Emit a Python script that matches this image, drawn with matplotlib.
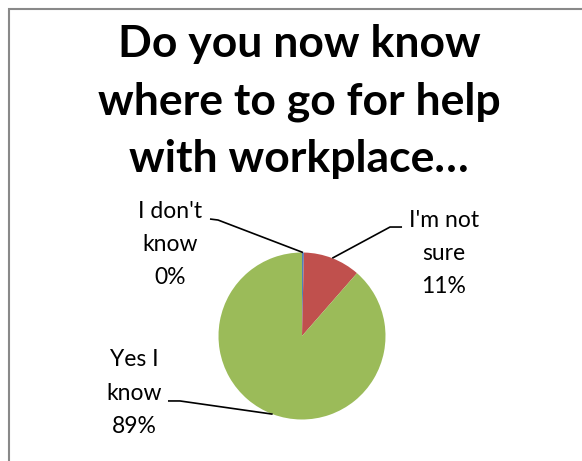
import matplotlib
matplotlib.use("Agg")
import matplotlib.pyplot as plt
import numpy as np
from matplotlib.patches import Rectangle

categories = ["I don't\nknow", "I'm not\nsure", "Yes I\nknow"]
values = [1, 30, 240]
pct_labels = ["0%", "11%", "89%"]
colors = ["#4F81BD", "#C0504D", "#9BBB59"]
title = "Do you now know\nwhere to go for help\nwith workplace…"

W, H = 582, 461
fig = plt.figure(figsize=(W / 100, H / 100), dpi=100)
fig.patch.set_facecolor("white")

# chart-area border
fig.add_artist(Rectangle((9 / W, -0.1), 1.2, (H - 9) / H + 0.1, transform=fig.transFigure,
                         fill=False, edgecolor="#898989", linewidth=1.5))

FONT = "Lato"
fig.text(299 / W, 1 - 24 / H, title, ha="center", va="top", fontsize=32,
         fontweight="bold", family=FONT, linespacing=1.52)

cx, cy, r = 302, 336, 83.5
ax = fig.add_axes([(cx - r) / W, (H - cy - r) / H, 2 * r / W, 2 * r / H])
wedges, _ = ax.pie(values, colors=colors, startangle=90, counterclock=False,
                   radius=1.0, wedgeprops=dict(linewidth=0))
ax.set_xlim(-1, 1)
ax.set_ylim(-1, 1)
ax.set_aspect("equal")
ax.axis("off")

# leader line layout (elbow, end) and label centers in pie-radius units
elbows = [(-1.006, 1.389), (1.054, 1.305), (-1.461, -0.778)]
ends = [(-1.102, 1.401), (1.198, 1.305), (-1.605, -0.778)]
label_pos = [(-1.581, 1.093), (1.70, 0.988), (-2.012, -0.683)]

for w, cat, pct, el, en, lp in zip(wedges, categories, pct_labels, elbows, ends, label_pos):
    mid = np.deg2rad((w.theta1 + w.theta2) / 2)
    px, py = np.cos(mid), np.sin(mid)
    ax.plot([px, el[0], en[0]], [py, el[1], en[1]], color="black", lw=1.2,
            clip_on=False, solid_capstyle="butt")
    ax.text(lp[0], lp[1], f"{cat}\n{pct}", ha="center", va="center", fontsize=16.5,
            family=FONT, linespacing=1.71, clip_on=False)

fig.savefig("out.png", dpi=100)
